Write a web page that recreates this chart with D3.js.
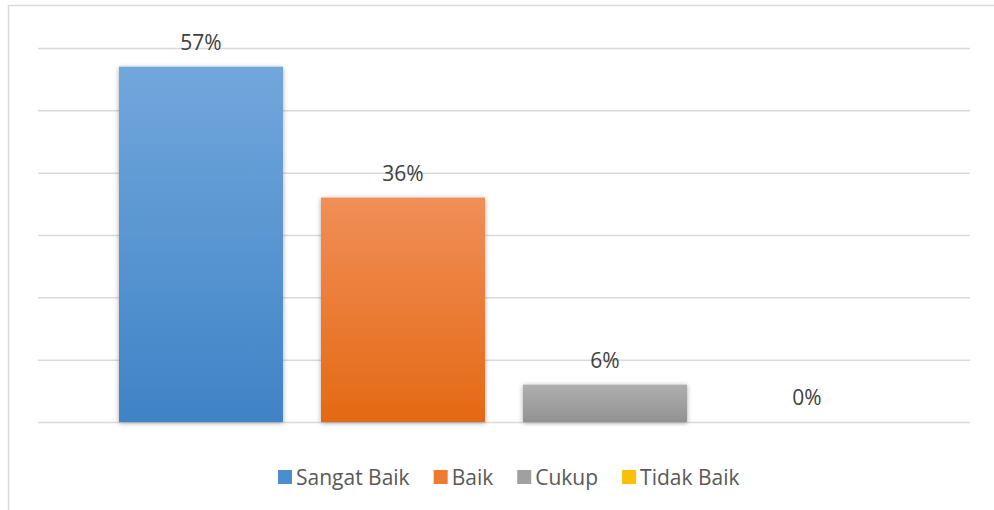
<!doctype html>
<html>
<head>
<meta charset="utf-8">
<script src="https://d3js.org/d3.v7.min.js"></script>
<style>
body { margin: 0; background: #fff; }
svg { font-family: "Open Sans", "Liberation Sans", sans-serif; }
.grid line { stroke: #d9d9d9; stroke-width: 1.5px; }
.grid path { display: none; }
.lbl { font-size: 21px; fill: #404040; }
.legend text { font-size: 21px; fill: #595959; }
</style>
</head>
<body>
<svg width="994" height="510"></svg>
<script>
// data
var series = ["Sangat Baik", "Baik", "Cukup", "Tidak Baik"];
var values = [0.57, 0.36, 0.06, 0.00];
var labels = ["57%", "36%", "6%", "0%"];
var gridTicks = [0, 0.1, 0.2, 0.3, 0.4, 0.5, 0.6];

var colTop = ["#72a7dc", "#f18f57", "#afafaf", "#ffcd33"];
var colBot = ["#3f83c6", "#e46913", "#929292", "#f0b800"];
var legendCol = ["#4a8ecf", "#ec7a2f", "#a0a0a0", "#fdc000"];

var svg = d3.select("svg");

// chart border
svg.append("rect")
  .attr("x", 8.5).attr("y", 5.5)
  .attr("width", 994).attr("height", 520)
  .attr("fill", "none").attr("stroke", "#d9d9d9").attr("stroke-width", 1.5);

var plotL = 38, plotR = 970, plotT = 48, plotB = 422;

var y = d3.scaleLinear().domain([0, 0.6]).range([plotB, plotT]);
var x = d3.scaleBand().domain(series).range([plotL, plotR])
  .paddingInner(0.188).paddingOuter(0.401);

var defs = svg.append("defs");
series.forEach(function(s, i) {
  var g = defs.append("linearGradient").attr("id", "grad" + i)
    .attr("x1", 0).attr("y1", 0).attr("x2", 0).attr("y2", 1);
  g.append("stop").attr("offset", "0%").attr("stop-color", colTop[i]);
  g.append("stop").attr("offset", "100%").attr("stop-color", colBot[i]);
});
var f = defs.append("filter").attr("id", "shadow")
  .attr("x", "-10%").attr("y", "-10%").attr("width", "120%").attr("height", "120%");
f.append("feDropShadow").attr("dx", 0).attr("dy", 1).attr("stdDeviation", 2.5)
  .attr("flood-color", "#000").attr("flood-opacity", 0.35);

svg.append("g").attr("class", "grid")
  .attr("transform", "translate(" + plotL + ",0)")
  .call(d3.axisLeft(y).tickValues(gridTicks).tickSize(-(plotR - plotL)).tickFormat(""));

svg.append("g").selectAll("rect")
  .data(values)
  .enter().append("rect")
  .attr("x", function(d, i) { return x(series[i]); })
  .attr("y", function(d) { return y(d); })
  .attr("width", x.bandwidth())
  .attr("height", function(d) { return plotB - y(d); })
  .attr("fill", function(d, i) { return "url(#grad" + i + ")"; })
  .attr("filter", "url(#shadow)");

svg.append("g").selectAll("text")
  .data(values)
  .enter().append("text")
  .attr("class", "lbl")
  .attr("x", function(d, i) { return x(series[i]) + x.bandwidth() / 2; })
  .attr("y", function(d) { return y(d) - 17; })
  .attr("text-anchor", "middle")
  .text(function(d, i) { return labels[i]; });

// legend
var legend = svg.append("g").attr("class", "legend");
var lx = 278;
series.forEach(function(s, i) {
  var item = legend.append("g").attr("transform", "translate(" + lx + ",470)");
  item.append("rect").attr("width", 14).attr("height", 14).attr("fill", legendCol[i]);
  var t = item.append("text").attr("x", 18).attr("y", 14.5).text(s);
  lx += 18 + t.node().getComputedTextLength() + 24;
});
</script>
</body>
</html>
